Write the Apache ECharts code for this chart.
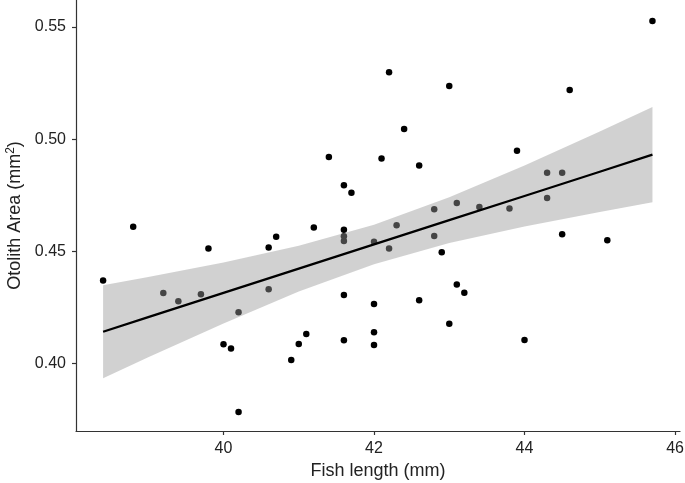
<!DOCTYPE html>
<html>
<head>
    <meta charset="UTF-8">
    <title>Otolith area vs fish length</title>
    <script type="text/javascript" src="https://cdn.jsdelivr.net/npm/echarts@6/dist/echarts.min.js"></script>
    <style type="text/css">
        body { margin: 0; background: #fff; }
        #chart { width: 685px; height: 483px; }
    </style>
</head>
<body>
<div id="chart"></div>

<script type="text/javascript">
    // fish length (mm) and otolith area (mm2) of each fish
    var fishLength = [38.4, 38.8, 39.2, 39.4, 39.7, 39.8, 40.0, 40.1, 40.2, 40.2,
        40.6, 40.6, 40.7, 40.9, 41.0, 41.1, 41.2, 41.4, 41.6, 41.6,
        41.6, 41.6, 41.6, 41.6, 41.7, 42.0, 42.0, 42.0, 42.0, 42.1,
        42.2, 42.2, 42.3, 42.4, 42.6, 42.6, 42.8, 42.8, 42.9, 43.0,
        43.0, 43.1, 43.1, 43.2, 43.4, 43.8, 43.9, 44.0, 44.3, 44.3,
        44.5, 44.5, 44.6, 45.1, 45.7];
    var otolithArea = [0.437, 0.461, 0.4315, 0.4278, 0.4309, 0.4513, 0.4086, 0.4067, 0.4229, 0.3785,
        0.4518, 0.4331, 0.4565, 0.4016, 0.4088, 0.4132, 0.4607, 0.4921, 0.4795, 0.4596,
        0.4568, 0.4546, 0.4306, 0.4104, 0.4761, 0.4543, 0.4266, 0.4140, 0.4083, 0.4914,
        0.5298, 0.4513, 0.4617, 0.5045, 0.4883, 0.4282, 0.4688, 0.4569, 0.4496, 0.5237,
        0.4178, 0.4716, 0.4353, 0.4316, 0.4698, 0.4691, 0.4948, 0.4105, 0.4850, 0.4738,
        0.4850, 0.4576, 0.5219, 0.4550, 0.5526];

    // fitted line and its confidence band
    var fitX     = [38.4, 39, 40, 41, 42, 43, 44, 45, 45.7];
    var fitY     = [0.4142, 0.4207, 0.4315, 0.4423, 0.4531, 0.4639, 0.4747, 0.4855, 0.4931];
    var bandLow  = [0.3935, 0.4028, 0.4179, 0.4321, 0.4443, 0.4537, 0.4611, 0.4676, 0.4719];
    var bandHigh = [0.4349, 0.4386, 0.4451, 0.4525, 0.4619, 0.4741, 0.4883, 0.5034, 0.5143];

    var xTicks = [40, 42, 44, 46];
    var yTicks = [0.40, 0.45, 0.50, 0.55];

    var points = fishLength.map(function (x, i) { return [x, otolithArea[i]]; });
    var fitLine = fitX.map(function (x, i) { return [x, fitY[i]]; });
    var band = fitX.map(function (x, i) { return [x, bandLow[i], bandHigh[i]]; });

    var font = 'Liberation Sans';
    var axisCol = '#333';
    var textCol = '#222';

    var myChart = echarts.init(document.getElementById('chart'));
    myChart.setOption({
        animation: false,
        grid: { left: 76, right: 5, top: 0, bottom: 52, outerBoundsMode: 'none' },
        xAxis: {
            type: 'value',
            min: 38.04,
            max: 46.066,
            name: 'Fish length (mm)',
            nameLocation: 'middle',
            nameGap: 24,
            nameTextStyle: { fontFamily: font, fontSize: 18, color: textCol },
            axisLine: { onZero: false, lineStyle: { color: axisCol, width: 1.2 } },
            axisTick: { show: true, length: 4, customValues: xTicks, lineStyle: { color: axisCol, width: 1.2 } },
            axisLabel: { customValues: xTicks, margin: 10, fontFamily: font, fontSize: 16, color: textCol },
            splitLine: { show: false }
        },
        yAxis: {
            type: 'value',
            min: 0.37,
            max: 0.562,
            name: 'Otolith Area (mm{sup|2})',
            nameLocation: 'middle',
            nameGap: 48,
            nameRotate: 90,
            nameTextStyle: {
                fontFamily: font, fontSize: 18, color: textCol,
                rich: { sup: { fontFamily: font, fontSize: 12, color: textCol, padding: [0, 0, 9, 0] } }
            },
            axisLine: { onZero: false, lineStyle: { color: axisCol, width: 1.2 } },
            axisTick: { show: true, length: 4, customValues: yTicks, lineStyle: { color: axisCol, width: 1.2 } },
            axisLabel: {
                customValues: yTicks, margin: 10, fontFamily: font, fontSize: 16, color: textCol,
                formatter: function (v) { return v.toFixed(2); }
            },
            splitLine: { show: false }
        },
        series: [{
            type: 'scatter',
            z: 2,
            symbolSize: 6.5,
            itemStyle: { color: '#000', opacity: 1 },
            data: points
        }, {
            type: 'custom',
            z: 3,
            silent: true,
            data: band,
            renderItem: function (params, api) {
                if (params.dataIndex !== 0) return;
                var pts = [];
                for (var i = 0; i < band.length; i++) pts.push(api.coord([band[i][0], band[i][2]]));
                for (var j = band.length - 1; j >= 0; j--) pts.push(api.coord([band[j][0], band[j][1]]));
                return {
                    type: 'polygon',
                    shape: { points: pts, smooth: 0 },
                    style: { fill: 'rgba(153,153,153,0.45)', stroke: null }
                };
            }
        }, {
            type: 'line',
            z: 4,
            symbol: 'none',
            lineStyle: { color: '#000', width: 2.3 },
            data: fitLine
        }]
    });
</script>
</body>
</html>
